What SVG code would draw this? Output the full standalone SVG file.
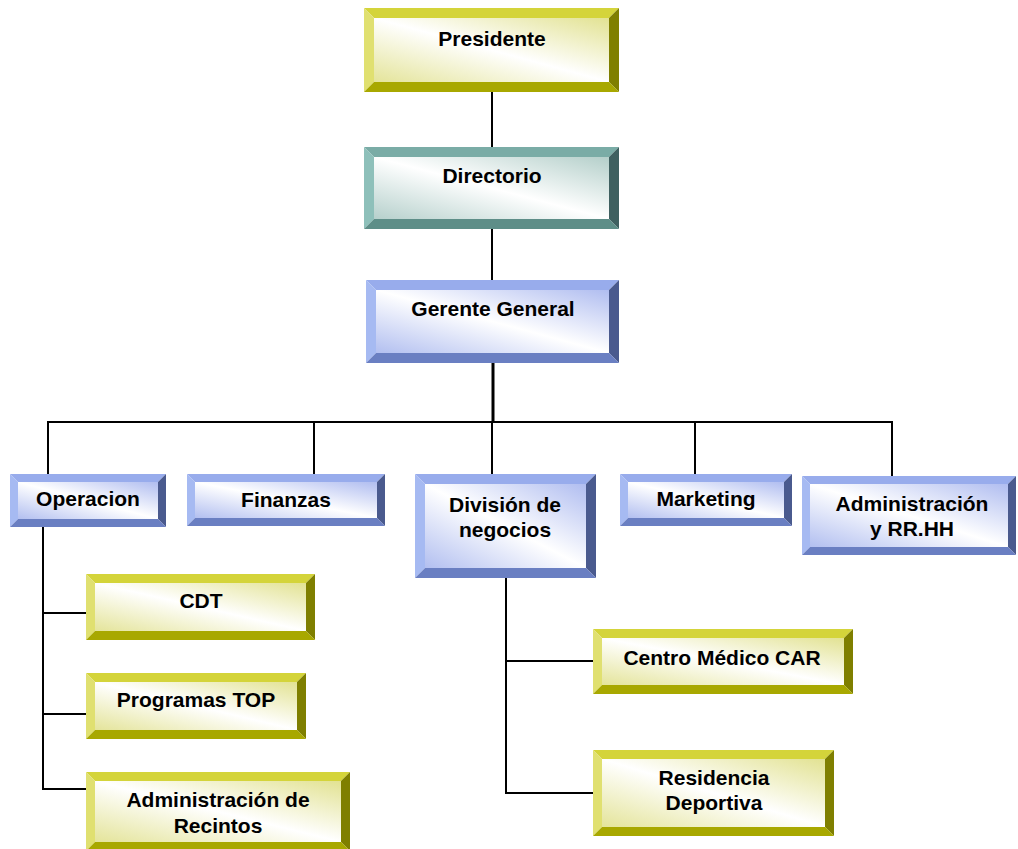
<svg xmlns="http://www.w3.org/2000/svg" width="1018" height="849" viewBox="0 0 1018 849">
<defs>
<linearGradient id="gy" x1="0" y1="1" x2="1" y2="0"><stop offset="0" stop-color="#e4e49a"/><stop offset="0.5" stop-color="#ffffff"/><stop offset="1" stop-color="#e2e292"/></linearGradient>
<linearGradient id="gt" x1="0" y1="1" x2="1" y2="0"><stop offset="0" stop-color="#b6d0cc"/><stop offset="0.5" stop-color="#ffffff"/><stop offset="1" stop-color="#b4cfca"/></linearGradient>
<linearGradient id="gb" x1="0" y1="1" x2="1" y2="0"><stop offset="0" stop-color="#b2bff0"/><stop offset="0.5" stop-color="#ffffff"/><stop offset="1" stop-color="#b0bdf0"/></linearGradient>
<style>
.y .t{fill:#d4d43a}.y .l{fill:#e0e070}.y .r{fill:#7f7f00}.y .b{fill:#a8a800}.y .f{fill:url(#gy)}
.c .t{fill:#7aaca6}.c .l{fill:#8ec0ba}.c .r{fill:#3f6060}.c .b{fill:#5e8e88}.c .f{fill:url(#gt)}
.u .t{fill:#98acec}.u .l{fill:#a6baf2}.u .r{fill:#4a5a8e}.u .b{fill:#6a7fc2}.u .f{fill:url(#gb)}
text{font-family:"Liberation Sans",Arial,sans-serif;font-weight:bold;font-size:21px;fill:#000;text-anchor:middle}
#connectors line,#connectors polyline{stroke:#000;stroke-width:2;fill:none}
</style>
</defs>
<rect width="1018" height="849" fill="#fff"/>
<g id="connectors">
<line x1="492" y1="92" x2="492" y2="147"/>
<line x1="492" y1="229" x2="492" y2="280"/>
<line x1="493" y1="363" x2="493" y2="422" style="stroke-width:3"/>
<polyline points="48,474 48,422 892,422 892,476"/>
<line x1="314" y1="422" x2="314" y2="474"/>
<line x1="492" y1="422" x2="492" y2="474"/>
<line x1="695" y1="422" x2="695" y2="474"/>
<polyline points="43,527 43,789 86,789"/>
<line x1="43" y1="613" x2="86" y2="613"/>
<line x1="43" y1="714" x2="86" y2="714"/>
<polyline points="506,578 506,793 593,793"/>
<line x1="506" y1="661" x2="593" y2="661"/>
</g>
<g id="presidente" class="y">
<polygon class="t" points="364,8 619,8 609,18 374,18"/>
<polygon class="l" points="364,8 374,18 374,82 364,92"/>
<polygon class="r" points="619,8 619,92 609,82 609,18"/>
<polygon class="b" points="364,92 374,82 609,82 619,92"/>
<rect class="f" x="374" y="18" width="235" height="64"/>
<text x="492" y="46">Presidente</text>
</g>
<g id="directorio" class="c">
<polygon class="t" points="364,147 619,147 609,157 374,157"/>
<polygon class="l" points="364,147 374,157 374,219 364,229"/>
<polygon class="r" points="619,147 619,229 609,219 609,157"/>
<polygon class="b" points="364,229 374,219 609,219 619,229"/>
<rect class="f" x="374" y="157" width="235" height="62"/>
<text x="492" y="183">Directorio</text>
</g>
<g id="gerente" class="u">
<polygon class="t" points="366,280 619,280 609,290 376,290"/>
<polygon class="l" points="366,280 376,290 376,353 366,363"/>
<polygon class="r" points="619,280 619,363 609,353 609,290"/>
<polygon class="b" points="366,363 376,353 609,353 619,363"/>
<rect class="f" x="376" y="290" width="233" height="63"/>
<text x="493" y="316">Gerente General</text>
</g>
<g id="operacion" class="u">
<polygon class="t" points="10,474 166,474 158,482 18,482"/>
<polygon class="l" points="10,474 18,482 18,519 10,527"/>
<polygon class="r" points="166,474 166,527 158,519 158,482"/>
<polygon class="b" points="10,527 18,519 158,519 166,527"/>
<rect class="f" x="18" y="482" width="140" height="37"/>
<text x="88" y="506">Operacion</text>
</g>
<g id="finanzas" class="u">
<polygon class="t" points="187,474 385,474 377,482 195,482"/>
<polygon class="l" points="187,474 195,482 195,518 187,526"/>
<polygon class="r" points="385,474 385,526 377,518 377,482"/>
<polygon class="b" points="187,526 195,518 377,518 385,526"/>
<rect class="f" x="195" y="482" width="182" height="36"/>
<text x="286" y="507">Finanzas</text>
</g>
<g id="division" class="u">
<polygon class="t" points="415,474 596,474 586,484 425,484"/>
<polygon class="l" points="415,474 425,484 425,568 415,578"/>
<polygon class="r" points="596,474 596,578 586,568 586,484"/>
<polygon class="b" points="415,578 425,568 586,568 596,578"/>
<rect class="f" x="425" y="484" width="161" height="84"/>
<text x="505" y="512">División de</text>
<text x="505" y="537">negocios</text>
</g>
<g id="marketing" class="u">
<polygon class="t" points="620,474 792,474 784,482 628,482"/>
<polygon class="l" points="620,474 628,482 628,518 620,526"/>
<polygon class="r" points="792,474 792,526 784,518 784,482"/>
<polygon class="b" points="620,526 628,518 784,518 792,526"/>
<rect class="f" x="628" y="482" width="156" height="36"/>
<text x="706" y="506">Marketing</text>
</g>
<g id="admin-rrhh" class="u">
<polygon class="t" points="802,476 1016,476 1008,484 810,484"/>
<polygon class="l" points="802,476 810,484 810,547 802,555"/>
<polygon class="r" points="1016,476 1016,555 1008,547 1008,484"/>
<polygon class="b" points="802,555 810,547 1008,547 1016,555"/>
<rect class="f" x="810" y="484" width="198" height="63"/>
<text x="912" y="511">Administración</text>
<text x="912" y="536">y RR.HH</text>
</g>
<g id="cdt" class="y">
<polygon class="t" points="86,574 315,574 306,583 95,583"/>
<polygon class="l" points="86,574 95,583 95,631 86,640"/>
<polygon class="r" points="315,574 315,640 306,631 306,583"/>
<polygon class="b" points="86,640 95,631 306,631 315,640"/>
<rect class="f" x="95" y="583" width="211" height="48"/>
<text x="201" y="608">CDT</text>
</g>
<g id="programas" class="y">
<polygon class="t" points="86,673 306,673 297,682 95,682"/>
<polygon class="l" points="86,673 95,682 95,730 86,739"/>
<polygon class="r" points="306,673 306,739 297,730 297,682"/>
<polygon class="b" points="86,739 95,730 297,730 306,739"/>
<rect class="f" x="95" y="682" width="202" height="48"/>
<text x="196" y="707">Programas TOP</text>
</g>
<g id="admin-recintos" class="y">
<polygon class="t" points="86,772 350,772 341,781 95,781"/>
<polygon class="l" points="86,772 95,781 95,842 86,851"/>
<polygon class="r" points="350,772 350,851 341,842 341,781"/>
<polygon class="b" points="86,851 95,842 341,842 350,851"/>
<rect class="f" x="95" y="781" width="246" height="61"/>
<text x="218" y="807">Administración de</text>
<text x="218" y="833">Recintos</text>
</g>
<g id="centro-medico" class="y">
<polygon class="t" points="593,629 853,629 844,638 602,638"/>
<polygon class="l" points="593,629 602,638 602,685 593,694"/>
<polygon class="r" points="853,629 853,694 844,685 844,638"/>
<polygon class="b" points="593,694 602,685 844,685 853,694"/>
<rect class="f" x="602" y="638" width="242" height="47"/>
<text x="722" y="665">Centro Médico CAR</text>
</g>
<g id="residencia" class="y">
<polygon class="t" points="593,750 834,750 825,759 602,759"/>
<polygon class="l" points="593,750 602,759 602,827 593,836"/>
<polygon class="r" points="834,750 834,836 825,827 825,759"/>
<polygon class="b" points="593,836 602,827 825,827 834,836"/>
<rect class="f" x="602" y="759" width="223" height="68"/>
<text x="714" y="785">Residencia</text>
<text x="714" y="810">Deportiva</text>
</g>
</svg>
